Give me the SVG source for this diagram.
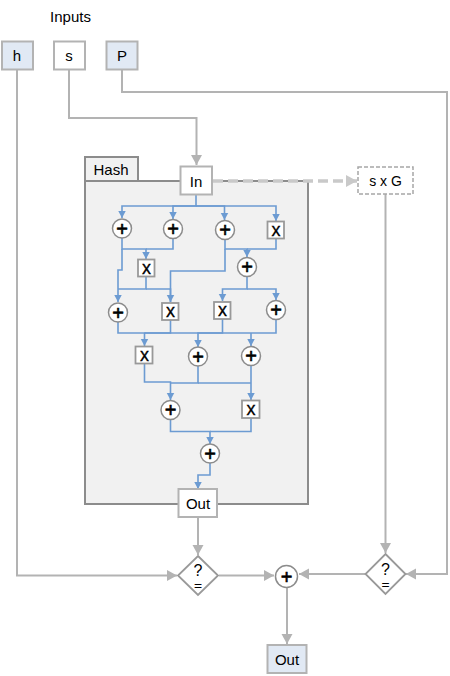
<svg xmlns="http://www.w3.org/2000/svg" width="450" height="676" viewBox="0 0 450 676">
<style>
text{font-family:"Liberation Sans",Arial,sans-serif;fill:#000;text-anchor:middle}
.t{font-size:15px}
.s{font-size:14px}
.b{fill:#fff;stroke:#b3b3b3;stroke-width:2}
.d{fill:#e1e9f4;stroke:#b3b3b3;stroke-width:2}
.c{fill:#fff;stroke:#8c8c8c;stroke-width:1.5}
.x{fill:#fff;stroke:#999;stroke-width:1.8}
.g{fill:none;stroke:#b3b3b3;stroke-width:2}
.l{fill:none;stroke:#6c9bd2;stroke-width:1.6}
.p{font-size:20px;stroke:#000;stroke-width:.6}
.m{font-size:18px;stroke:#000;stroke-width:.3}
.q{font-size:16px}
.e{font-size:13px;stroke:#000;stroke-width:.3}
</style>
<defs>
<marker id="ag" markerUnits="userSpaceOnUse" markerWidth="12" markerHeight="12" refX="10" refY="6" orient="auto"><path d="M0 .5L10 6L0 11.500Z" fill="#b3b3b3"/></marker>
<marker id="al" markerUnits="userSpaceOnUse" markerWidth="12" markerHeight="14" refX="11" refY="7" orient="auto"><path d="M0 1L11 7L0 13Z" fill="#c9c9c9"/></marker>
<marker id="ab" markerUnits="userSpaceOnUse" markerWidth="9" markerHeight="9" refX="7.500" refY="4.500" orient="auto"><path d="M0 .5L7.500 4.500L0 8.500Z" fill="#6c9bd2"/></marker>
</defs>
<text x="70.500" y="22" class="t">Inputs</text>
<g id="hash">
<rect x="85" y="181" width="223" height="323" fill="#f1f1f1" stroke="#8c8c8c" stroke-width="2"/>
<rect x="85" y="157" width="53" height="24" fill="#f1f1f1" stroke="#8c8c8c" stroke-width="2"/>
<text x="111" y="175" class="t">Hash</text>
</g>
<g id="connectors">
<path class="g" d="M17 69V575.500H177" marker-end="url(#ag)"/>
<path class="g" d="M69 69V118H196.500V165" marker-end="url(#ag)"/>
<path class="g" d="M122 69V92H447V574H406" marker-end="url(#ag)"/>
<path d="M213 181H357" fill="none" stroke="#c9c9c9" stroke-width="3.500" stroke-dasharray="10 5" marker-end="url(#al)"/>
<path class="g" d="M385.500 194V553" marker-end="url(#ag)"/>
<path class="g" d="M198 517V555" marker-end="url(#ag)"/>
<path class="g" d="M219 575.500H274" marker-end="url(#ag)"/>
<path class="g" d="M365 574H299" marker-end="url(#ag)"/>
<path class="g" d="M287 587V644" marker-end="url(#ag)"/>
<g id="hash-links">
<path class="l" d="M196 194V206H122V218" marker-end="url(#ab)"/>
<path class="l" d="M196 206H173V219" marker-end="url(#ab)"/>
<path class="l" d="M196 206H224.500V220" marker-end="url(#ab)"/>
<path class="l" d="M196 206H276V221" marker-end="url(#ab)"/>
<path class="l" d="M122 238V249H146V259" marker-end="url(#ab)"/>
<path class="l" d="M173 239V249H146"/>
<path class="l" d="M225 240V249H247V257" marker-end="url(#ab)"/>
<path class="l" d="M276 239V249H247"/>
<path class="l" d="M122 249V270H118V302" marker-end="url(#ab)"/>
<path class="l" d="M146 277V289H118"/>
<path class="l" d="M146 289H170.500V302" marker-end="url(#ab)"/>
<path class="l" d="M225 249V271H170.500V302"/>
<path class="l" d="M247 277V289H222.500V301" marker-end="url(#ab)"/>
<path class="l" d="M247 289H276V300" marker-end="url(#ab)"/>
<path class="l" d="M118 322V333H144.500V346" marker-end="url(#ab)"/>
<path class="l" d="M170.500 320V333H144.500"/>
<path class="l" d="M222.500 319V333H144.500"/>
<path class="l" d="M276 320V333H198V347" marker-end="url(#ab)"/>
<path class="l" d="M251 333V346" marker-end="url(#ab)"/>
<path class="l" d="M144.500 364V382H170.500V400" marker-end="url(#ab)"/>
<path class="l" d="M198 366V383H170.500"/>
<path class="l" d="M251 366V400" marker-end="url(#ab)"/>
<path class="l" d="M198 383H251"/>
<path class="l" d="M170.500 420V431.500H210V444" marker-end="url(#ab)"/>
<path class="l" d="M251 418V431.500H210"/>
<path class="l" d="M210 463V475H198V489" marker-end="url(#ab)"/>
</g>
</g>
<g id="in-h"><rect class="d" x="2" y="41.500" width="31" height="28"/><text x="17" y="61" class="t">h</text></g>
<g id="in-s"><rect class="b" x="54" y="41.500" width="31" height="28"/><text x="69" y="61" class="t">s</text></g>
<g id="in-p"><rect class="d" x="106.500" y="41.500" width="31" height="28"/><text x="122" y="61" class="t">P</text></g>
<g id="hash-in"><rect class="b" x="180.500" y="166.500" width="31.500" height="28"/><text x="196" y="187" class="t">In</text></g>
<g id="sxg"><rect x="358" y="167" width="55" height="27" fill="#fff" stroke="#a6a6a6" stroke-width="1.500" stroke-dasharray="4 2"/><text x="385.500" y="186" class="s">s x G</text></g>
<g id="hash-out"><rect class="b" x="178.500" y="489" width="38.500" height="28"/><text x="198" y="509" class="t">Out</text></g>
<g id="a1"><circle class="c" cx="122" cy="228.500" r="9.500"/><text x="122" y="235.500" class="p">+</text></g>
<g id="a2"><circle class="c" cx="173" cy="229" r="9.500"/><text x="173" y="236" class="p">+</text></g>
<g id="a3"><circle class="c" cx="225" cy="230" r="9.500"/><text x="225" y="237" class="p">+</text></g>
<g id="x1"><rect class="x" x="267.500" y="221.500" width="16.500" height="17"/><text x="276" y="235.500" class="m">x</text></g>
<g id="x2"><rect class="x" x="138" y="259.500" width="16.500" height="17"/><text x="146.500" y="273.500" class="m">x</text></g>
<g id="a4"><circle class="c" cx="247" cy="267" r="9.500"/><text x="247" y="274" class="p">+</text></g>
<g id="a5"><circle class="c" cx="118" cy="312.500" r="9.500"/><text x="118" y="319.500" class="p">+</text></g>
<g id="x3"><rect class="x" x="162" y="303" width="16.500" height="17"/><text x="170.500" y="317" class="m">x</text></g>
<g id="x4"><rect class="x" x="214" y="302" width="16.500" height="17"/><text x="222.500" y="316" class="m">x</text></g>
<g id="a6"><circle class="c" cx="276" cy="310" r="9.500"/><text x="276" y="317" class="p">+</text></g>
<g id="x5"><rect class="x" x="135.500" y="346.500" width="17" height="17"/><text x="144.500" y="360.500" class="m">x</text></g>
<g id="a7"><circle class="c" cx="198" cy="356.500" r="9.500"/><text x="198" y="363.500" class="p">+</text></g>
<g id="a8"><circle class="c" cx="251" cy="356" r="9.500"/><text x="251" y="363" class="p">+</text></g>
<g id="a9"><circle class="c" cx="170.500" cy="410" r="9.500"/><text x="170.500" y="417" class="p">+</text></g>
<g id="x6"><rect class="x" x="242" y="400.500" width="17.500" height="17.500"/><text x="251" y="414.500" class="m">x</text></g>
<g id="a10"><circle class="c" cx="210" cy="453.500" r="9.500"/><text x="210" y="460.500" class="p">+</text></g>
<g id="cmp1"><path class="x" d="M198 556L218 575.500L198 595L178 575.500Z"/><text x="198" y="576" class="q">?</text><text x="198" y="590" class="e">=</text></g>
<g id="cmp2"><path class="x" d="M385.500 554L405.500 574L385.500 594L365.500 574Z"/><text x="385.500" y="574.500" class="q">?</text><text x="385.500" y="588.500" class="e">=</text></g>
<g id="sum"><circle class="c" cx="286.500" cy="576.500" r="11"/><text x="286.500" y="583.500" class="p">+</text></g>
<g id="out"><rect class="d" x="267.500" y="645" width="39" height="28"/><text x="287" y="665" class="t">Out</text></g>
</svg>
